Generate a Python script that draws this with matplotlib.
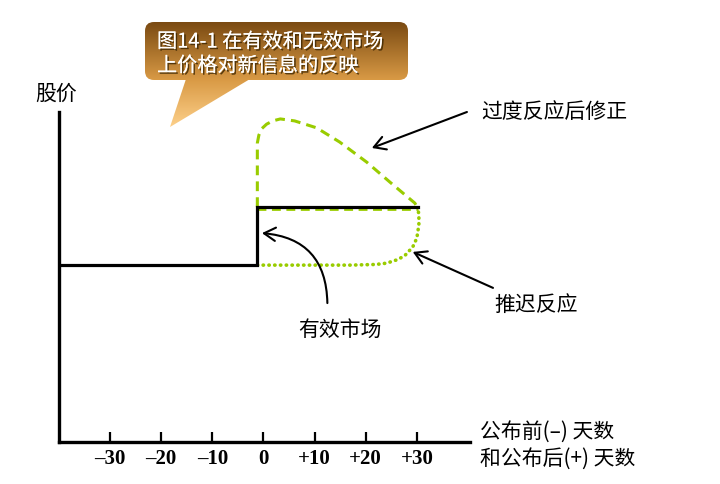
import matplotlib
matplotlib.use("Agg")
import matplotlib.pyplot as plt
import numpy as np
from matplotlib.patches import FancyBboxPatch, Polygon
from matplotlib.colors import LinearSegmentedColormap
import matplotlib.patheffects as pe

plt.rcParams['font.family'] = ['Noto Sans CJK SC', 'DejaVu Sans']

# ---------------- data ----------------
tick_days = [-30, -20, -10, 0, 10, 20, 30]
tick_labels = ['\u201330', '\u201320', '\u201310', '0', '+10', '+20', '+30']

# efficient market (step) : days, price
eff_days = [-40, -1.2, -1.2, 30.2]
eff_price = [53.6, 53.6, 71.2, 71.2]

# over-reaction then correction (dashed)
over_days = [-1.2, -1.2, -1.2, -0.9, -0.3, 0.6, 1.8, 3.3, 6.1, 10.4, 14.9, 20.2, 24.7, 29.6, 30.2]
over_price = [71.2, 80.9, 90.6, 93.0, 95.0, 96.3, 97.3, 97.9, 97.3, 95.2, 90.9, 84.8, 78.8, 72.4, 70.9]

# delayed reaction (dotted)
delay_days = [-1.2, 7.1, 16.9, 22.0, 24.1, 26.1, 27.6, 29.2, 30.0, 30.4, 30.4, 30.2]
delay_price = [53.6, 53.6, 53.6, 53.8, 54.2, 55.2, 56.4, 59.1, 61.8, 65.8, 68.8, 70.9]

# green dashed along new level (mostly hidden under the black line)
level_days = [-1.2, 30.2]
level_price = [70.7, 70.7]

W, H = 720, 484
fig = plt.figure(figsize=(7.2, 4.84), dpi=100)
fig.patch.set_facecolor('white')

ax = fig.add_axes([59 / W, (H - 442) / H, (470 - 59) / W, (442 - 112) / H])
ax.set_xlim(-40, 40.4)
ax.set_ylim(0, 100)
ax.set_facecolor('none')
for s in ['top', 'right']:
    ax.spines[s].set_visible(False)
for s in ['left', 'bottom']:
    ax.spines[s].set_linewidth(2.4)
    ax.spines[s].set_color('black')
ax.set_yticks([])
ax.set_xticks(tick_days)
ax.set_xticklabels(tick_labels, fontfamily='Liberation Serif', fontweight='bold', fontsize=15)
ax.tick_params(axis='x', direction='in', length=7, width=1.6, pad=5)

green = '#99CC00'
ax.plot(level_days, level_price, color=green, lw=2.0, ls=(0, (3.2, 2)), zorder=2)
ax.plot(over_days, over_price, color=green, lw=2.2, ls=(0, (3.2, 2)), zorder=2,
        solid_joinstyle='round')
ax.plot(delay_days, delay_price, color=green, lw=2.6, ls=(0, (0.1, 1.5)),
        dash_capstyle='round', zorder=2)
ax.plot(eff_days, eff_price, color='black', lw=2.3, zorder=3, solid_joinstyle='miter')

arrow = dict(arrowstyle='->,head_length=0.55,head_width=0.32', color='black', lw=1.5,
             shrinkA=0, shrinkB=0, mutation_scale=15)
ax.annotate('', xy=(21.2, 89.1), xytext=(39.8, 100.0), arrowprops=arrow, annotation_clip=False)
ax.annotate('', xy=(29.2, 57.6), xytext=(44.9, 46.7), arrowprops=arrow, annotation_clip=False)
ax.annotate('', xy=(-0.3, 63.3), xytext=(12.5, 42.1),
            arrowprops=dict(arrow, connectionstyle='arc3,rad=0.45'), annotation_clip=False)

lbl = dict(fontsize=15, color='black')
ax.text(42.7, 100.0, '过度反应后修正', ha='left', va='center', clip_on=False, **lbl)
ax.text(53.4, 41.5, '推迟反应', ha='center', va='center', clip_on=False, **lbl)
ax.text(14.9, 34.0, '有效市场', ha='center', va='center', clip_on=False, **lbl)

fig.text(56.5 / W, 1 - 94 / H, '股价', ha='center', va='center', **lbl)
fig.text(480 / W, 1 - 432 / H, '公布前(\u2013) 天数', ha='left', va='center', **lbl)
fig.text(480 / W, 1 - 459 / H, '和公布后(+) 天数', ha='left', va='center', **lbl)

# ---------------- callout ----------------
ov = fig.add_axes([0, 0, 1, 1])
ov.set_xlim(0, W)
ov.set_ylim(H, 0)
ov.axis('off')
ov.set_facecolor('none')

cmap = LinearSegmentedColormap.from_list('callout', [(0, '#7A4A12'), (0.55, '#D99A45'), (1, '#FDD08A')])
grad = np.linspace(0, 1, 256).reshape(-1, 1)
box = FancyBboxPatch((145, 22), 263, 58, boxstyle='round,pad=0,rounding_size=9',
                     facecolor='none', edgecolor='none')
tri = Polygon([(187, 76), (255, 76), (170, 127)], closed=True, facecolor='none', edgecolor='none')
ov.add_patch(box)
ov.add_patch(tri)
for p in (box, tri):
    im = ov.imshow(grad, cmap=cmap, aspect='auto', extent=(145, 408, 127, 22),
                   interpolation='bilinear', zorder=1)
    im.set_clip_path(p)

fx = [pe.withSimplePatchShadow(offset=(1.2, -1.2), shadow_rgbFace='#3a2400', alpha=0.8), pe.Normal()]
ov.text(157, 42, '图14-1 在有效和无效市场', color='white', fontsize=14.5, ha='left', va='center',
        path_effects=fx, zorder=3)
ov.text(157, 66, '上价格对新信息的反映', color='white', fontsize=14.5, ha='left', va='center',
        path_effects=fx, zorder=3)

fig.savefig('out.png', dpi=100)
